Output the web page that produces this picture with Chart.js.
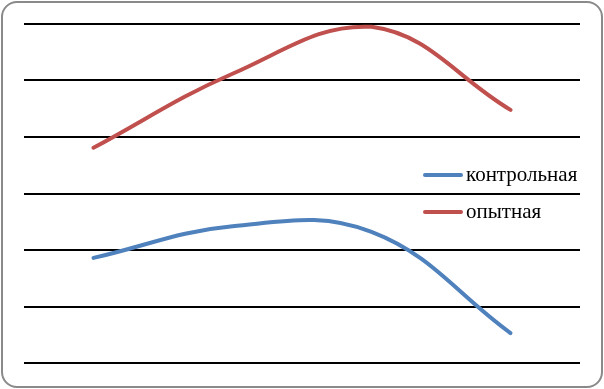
<!DOCTYPE html>
<html>
<head>
<meta charset="utf-8">
<script src="https://cdn.jsdelivr.net/npm/chart.js@4.4.0/dist/chart.umd.min.js"></script>
<style>
    body { margin: 0; background: #fff; }
    #wrap { position: relative; width: 604px; height: 389px; }
    #frame {
        position: absolute; left: 1px; top: 1px; width: 598px; height: 383px;
        border: 2px solid #8a8a8a; border-radius: 16px; pointer-events: none;
    }
    .leg {
        position: absolute; left: 423px; height: 24px;
        font-family: "Times New Roman", "Liberation Serif", serif; font-size: 21px;
        line-height: 24px; color: #000; white-space: nowrap;
    }
    .leg span.sw {
        display: inline-block; width: 40px; height: 4px; border-radius: 2px;
        vertical-align: middle; margin-right: 3px; position: relative; top: -1px;
    }
</style>
</head>
<body>
<div id="wrap">
    <canvas id="chart" width="604" height="389"></canvas>
    <div id="frame"></div>
    <div id="legend"></div>
</div>
<script>
// categories (no labels shown on the chart)
const categories = ["1", "2", "3", "4"];
// series values, read in grid units (0..6)
const controlValues = [1.86, 2.42, 2.32, 0.53];
const testValues = [3.81, 5.12, 5.95, 4.48];
const seriesNames = ["контрольная", "опытная"];
const seriesColors = ["#4F81BD", "#C0504D"];
// y axis gridlines
const yMin = 0;
const yMax = 6;
const yStep = 1;

const ctx = document.getElementById("chart").getContext("2d");
const chart = new Chart(ctx, {
    type: "line",
    data: {
        labels: categories,
        datasets: [
            {
                label: seriesNames[0],
                data: controlValues,
                borderColor: seriesColors[0],
                borderWidth: 4,
                tension: 0.4,
                pointRadius: 0,
                borderCapStyle: "round",
                fill: false
            },
            {
                label: seriesNames[1],
                data: testValues,
                borderColor: seriesColors[1],
                borderWidth: 4,
                tension: 0.4,
                pointRadius: 0,
                borderCapStyle: "round",
                fill: false
            }
        ]
    },
    options: {
        responsive: false,
        animation: false,
        layout: { padding: { left: 24, right: 24, top: 24, bottom: 26 } },
        plugins: {
            legend: { display: false },
            tooltip: { enabled: false }
        },
        scales: {
            x: {
                display: false,
                offset: true
            },
            y: {
                min: yMin,
                max: yMax,
                ticks: { display: false, stepSize: yStep },
                grid: { color: "#000", lineWidth: 2, drawTicks: false },
                border: { display: false }
            }
        }
    }
});

// legend sits inside the plot area, like the original
const legendTops = [162, 199];
const legendElem = document.getElementById("legend");
chart.data.datasets.forEach((ds, i) => {
    const row = document.createElement("div");
    row.className = "leg";
    row.style.top = legendTops[i] + "px";
    row.innerHTML = `<span class="sw" style="background:${ds.borderColor}"></span>${ds.label}`;
    legendElem.appendChild(row);
});
</script>
</body>
</html>
